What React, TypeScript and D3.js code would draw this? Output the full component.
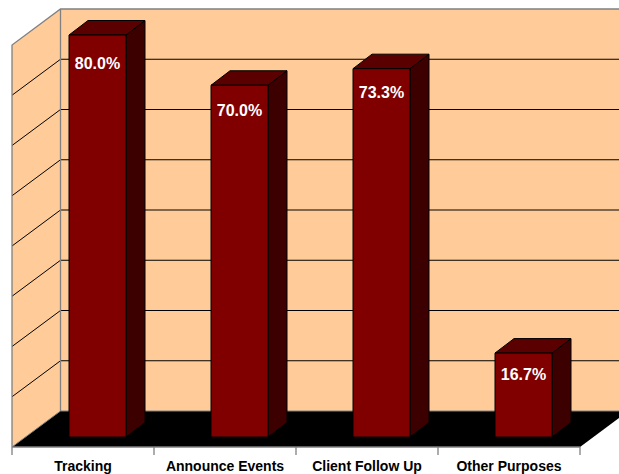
import React from "react";
import * as d3 from "d3";

const categories = ["Tracking", "Announce Events", "Client Follow Up", "Other Purposes"];
const values = [80.0, 70.0, 73.3, 16.7];
const gridTicks = [0, 10, 20, 30, 40, 50, 60, 70, 80];

const W = 619, H = 474;
const wallDx = 48.5, wallDy = -36;
const x0 = 12, x1 = 580, yFloor = 447, yTop = 45;
const barW = 57, barDx = 19, barDy = -14.5;
const barFrontDx = 14.5, barFrontDy = -10;
const labelOffsets = [33.5, 30.5, 29, 26.5];
const GRID = "#000", WALL = "#808080", PEACH = "#FFCC99";

const x = d3.scaleBand<string>().domain(categories).range([x0, x1]);
const y = d3.scaleLinear().domain([0, 80]).range([yFloor, yTop]);
const pts = (p: number[][]) => p.map((d) => d.join(",")).join(" ");

export default function App() {
  const back = (v: number) => y(v) + wallDy;
  return (
    <svg width={W} height={H} viewBox={`0 0 ${W} ${H}`} style={{ position: "absolute", left: 0, top: 0, background: "#fff" }}>
      <polygon points={pts([[x0 + wallDx, back(80)], [x1 + wallDx, back(80)], [x1 + wallDx, back(0)], [x0 + wallDx, back(0)]])} fill={PEACH} />
      <polygon points={pts([[x0, y(80)], [x0 + wallDx, back(80)], [x0 + wallDx, back(0)], [x0, y(0)]])} fill={PEACH} />
      <polygon points={pts([[x0, y(0)], [x1, y(0)], [x1 + wallDx, back(0)], [x0 + wallDx, back(0)]])} fill="#000" />
      {gridTicks.slice(1, -1).map((t) => (
        <polyline key={t} points={pts([[x0, y(t)], [x0 + wallDx, back(t)], [x1 + wallDx, back(t)]])} fill="none" stroke={GRID} strokeWidth={1} />
      ))}
      <polyline points={pts([[x0, y(0)], [x0, y(80)], [x0 + wallDx, back(80)], [x1 + wallDx, back(80)]])} fill="none" stroke={WALL} strokeWidth={1.3} />
      <line x1={x0 + wallDx} x2={x0 + wallDx} y1={back(80)} y2={back(0)} stroke={WALL} strokeWidth={1.3} />
      <polyline points={pts([[x0, y(0)], [x0 + wallDx, back(0)], [x1 + wallDx, back(0)]])} fill="none" stroke={WALL} strokeWidth={1} />
      {categories.map((c, i) => {
        const l = x(c)! + (x.bandwidth() - barW) / 2 + barFrontDx;
        const r = l + barW;
        const bot = y(0) + barFrontDy;
        const top = y(values[i]) + barFrontDy;
        return (
          <g key={c} stroke="#000" strokeWidth={1} strokeLinejoin="round">
            <polygon points={pts([[r, top], [r + barDx, top + barDy], [r + barDx, bot + barDy], [r, bot]])} fill="#3c0000" />
            <polygon points={pts([[l, top], [l + barDx, top + barDy], [r + barDx, top + barDy], [r, top]])} fill="#5a0000" />
            <rect x={l} y={top} width={barW} height={bot - top} fill="#800000" />
            <text x={(l + r) / 2} y={top + labelOffsets[i]} textAnchor="middle" stroke="none" fill="#fff" fontFamily="'Liberation Sans', Arial, sans-serif" fontWeight={700} fontSize={16}>
              {values[i].toFixed(1)}%
            </text>
          </g>
        );
      })}
      <line x1={x0} x2={x1} y1={yFloor} y2={yFloor} stroke={WALL} strokeWidth={1.3} />
      {[...categories.map((c) => x(c)!), x1].map((t) => (
        <line key={t} x1={t} x2={t} y1={yFloor} y2={yFloor + 8} stroke={WALL} strokeWidth={1.3} />
      ))}
      {categories.map((c) => (
        <text key={c} x={x(c)! + x.bandwidth() / 2} y={471} textAnchor="middle" fill="#000" fontFamily="'Liberation Sans', Arial, sans-serif" fontWeight={700} fontSize={14}>
          {c}
        </text>
      ))}
    </svg>
  );
}
